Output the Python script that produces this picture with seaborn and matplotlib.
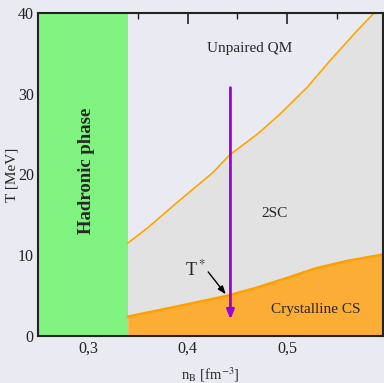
import numpy as np
import matplotlib
matplotlib.use("Agg")
import matplotlib.pyplot as plt
import seaborn as sns
from matplotlib.ticker import MultipleLocator, FuncFormatter

sns.set_theme(style="dark")
plt.rcParams["font.family"] = ["Liberation Serif", "DejaVu Serif"]
plt.rcParams["mathtext.fontset"] = "stix"

# Phase boundaries (baryon density in fm^-3, temperature in MeV)
n_upper = [0.34, 0.36, 0.392, 0.425, 0.442, 0.47, 0.492, 0.52, 0.545, 0.57, 0.587]
T_upper = [11.5, 13.4, 16.8, 20.2, 22.4, 25.0, 27.4, 30.8, 34.4, 37.8, 40.0]

n_lower = [0.34, 0.387, 0.437, 0.467, 0.50, 0.529, 0.56, 0.596]
T_lower = [2.4, 3.6, 4.9, 5.9, 7.2, 8.4, 9.3, 10.1]

n_hadronic = 0.34
n_arrow = 0.443
T_arrow_top = 31.1
T_arrow_bottom = 1.7

x_ticks = [0.3, 0.4, 0.5]
y_ticks = [0, 10, 20, 30, 40]

fig = plt.figure(figsize=(3.84, 3.83), dpi=100)
ax = fig.add_axes([38 / 384, 47 / 383, 345 / 384, 323 / 383])
ax.set_facecolor("#eaeaf2")
ax.grid(False)

xmin, xmax = 0.25, 0.596
ymin, ymax = 0, 40

# Hadronic phase
ax.fill_between([xmin, n_hadronic], ymin, ymax, color="#80f280", lw=0, zorder=1)

# 2SC region between the two boundaries, crystalline phase below
n_grid = np.linspace(n_hadronic, xmax, 300)
Tu = np.interp(n_grid, n_upper + [0.62], T_upper + [43.5])
Tl = np.interp(n_grid, n_lower, T_lower)
ax.fill_between(n_grid, Tl, np.minimum(Tu, ymax), color="#e2e2e2", lw=0, zorder=1)
ax.fill_between(n_grid, ymin, Tl, color="#fbad36", lw=0, zorder=1)

sns.lineplot(x=n_upper, y=T_upper, ax=ax, color="#ffa500", lw=1.2, zorder=3,
             estimator=None, sort=False)
sns.lineplot(x=n_lower, y=T_lower, ax=ax, color="#ffa000", lw=1.8, zorder=3,
             estimator=None, sort=False)

# Vertical cooling path
ax.annotate("", xy=(n_arrow, T_arrow_bottom), xytext=(n_arrow, T_arrow_top),
            arrowprops=dict(arrowstyle="-|>,head_length=0.45,head_width=0.18",
                            color="#9a00e0", lw=2.0), zorder=4)

# T* marker
ax.annotate("", xy=(0.44, 4.9), xytext=(0.419, 8.2),
            arrowprops=dict(arrowstyle="-|>,head_length=0.4,head_width=0.15",
                            color="black", lw=1.0), zorder=5)
ax.text(0.408, 8.2, r"T$^*$", fontsize=13, ha="center", va="center", zorder=5)

ax.text(0.4625, 35.6, "Unpaired QM", fontsize=11, ha="center", va="center")
ax.text(0.487, 15.2, "2SC", fontsize=11, ha="center", va="center")
ax.text(0.529, 3.3, "Crystalline CS", fontsize=11, ha="center", va="center")
ax.text(0.299, 20.5, "Hadronic phase", fontsize=13.5, fontweight="bold",
        rotation=90, ha="center", va="center")

ax.set_xlim(xmin, xmax)
ax.set_ylim(ymin, ymax)
ax.set_xticks(x_ticks)
ax.set_yticks(y_ticks)
ax.xaxis.set_minor_locator(MultipleLocator(0.05))
ax.yaxis.set_minor_locator(MultipleLocator(5))
ax.xaxis.set_major_formatter(FuncFormatter(lambda v, p: f"{v:.1f}".replace(".", ",")))
ax.tick_params(which="both", direction="in", top=True, right=True,
               colors="#222222", labelsize=11.5)
ax.tick_params(axis="y", pad=3)
ax.tick_params(which="major", length=8, width=1.2)
ax.tick_params(which="minor", length=4, width=1.0)
for side in ["left", "bottom", "top", "right"]:
    ax.spines[side].set_visible(True)
    ax.spines[side].set_color("#222222")
    ax.spines[side].set_linewidth(1.5)
    ax.spines[side].set_zorder(6)

ax.set_xlabel(r"n$_\mathrm{B}$ [fm$^{-3}$]", fontsize=10.5, labelpad=6)
ax.set_ylabel("T [MeV]", fontsize=11)
ax.yaxis.set_label_coords(-0.057, 0.5)

fig.patch.set_facecolor("#eaeaf2")
fig.savefig("out.png", dpi=100, facecolor=fig.get_facecolor())
